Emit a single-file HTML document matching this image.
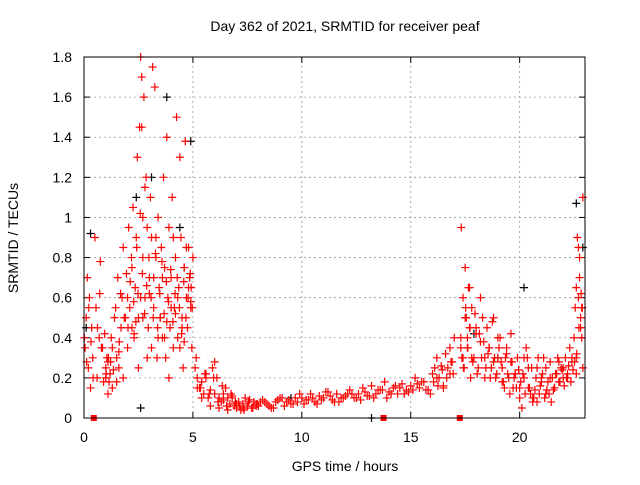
<!DOCTYPE html>
<html><head><meta charset="utf-8"><style>
body{margin:0;background:#fff}
svg{font-family:"Liberation Sans",sans-serif}
</style></head><body>
<svg id="chart" width="640" height="480">
<text x="345" y="31" text-anchor="middle" font-size="14">Day 362 of 2021, SRMTID for receiver peaf</text>
<text x="345" y="471" text-anchor="middle" font-size="14">GPS time / hours</text>
<text transform="translate(18,238) rotate(-90)" text-anchor="middle" font-size="14">SRMTID / TECUs</text>
<g id="grid"></g><g id="ticks"></g><g id="marks"></g>
<rect x="84" y="57" width="501" height="361" fill="none" stroke="#000" stroke-width="1"/>
</svg>
<script>
const xTicks=[0,5,10,15,20];
const yTicks=[0,0.2,0.4,0.6,0.8,1,1.2,1.4,1.6,1.8];
const yLabels=["0","0.2","0.4","0.6","0.8","1","1.2","1.4","1.6","1.8"];
const redT=[0.05,0.1,0.15,0.2,0.25,0.3,0.35,0.4,0.5,0.55,0.6,0.7,0.75,0.8,0.9,1.0,1.05,1.1,1.2,1.25,1.3,1.4,1.5,1.55,1.6,1.7,1.75,1.8,1.9,2.0,2.05,2.1,2.2,2.25,2.3,2.35,2.4,2.45,2.5,2.55,2.6,2.65,2.7,2.75,2.8,2.85,2.9,2.95,3.0,3.05,3.1,3.15,3.2,3.25,3.3,3.35,3.4,3.45,3.5,3.55,3.6,3.65,3.7,3.75,3.8,3.85,3.9,3.95,4.0,4.05,4.1,4.15,4.2,4.25,4.3,4.35,4.4,4.45,4.5,4.55,4.6,4.65,4.7,4.75,4.8,4.85,4.9,4.95,5.0,2.6,2.65,2.7,2.9,3.3,3.5,3.9,4.3,4.5,2.5,2.8,3.1,3.6,4.0,4.4,4.7,1.8,2.2,2.0,3.2,3.7,4.1,4.6,4.8,
0.02,0.12,0.22,0.32,0.42,0.62,0.72,0.85,0.95,1.02,1.12,1.15,1.22,1.35,1.45,1.62,1.68,1.85,1.95,2.02,2.12,2.18,2.28,2.38,2.42,2.48,2.58,2.68,2.78,2.88,2.98,3.08,3.18,3.28,3.38,3.48,3.58,3.68,3.78,3.88,3.98,4.08,4.18,4.28,4.38,4.48,4.58,4.68,4.78,4.88,4.92,4.97,1.0,1.1,1.3,1.5,1.6,2.3,2.7,3.0,3.4,3.8,4.2,4.6,4.9,
5.1,5.2,5.3,5.4,5.5,5.6,5.7,5.8,5.9,6.0,6.1,6.2,6.3,6.4,6.5,6.6,6.7,6.8,6.9,7.0,7.1,7.2,7.3,7.4,7.5,7.6,7.7,7.8,7.9,8.0,8.2,8.4,8.6,8.8,9.0,9.2,9.4,9.6,9.8,10.0,10.2,10.4,10.6,10.8,11.0,11.2,11.4,11.6,11.8,12.0,12.2,12.4,12.6,12.8,13.0,13.2,13.4,13.6,13.8,14.0,14.2,14.4,14.6,14.8,15.0,15.2,15.4,15.6,15.8,16.0,16.1,16.2,16.3,16.4,16.5,16.6,16.7,16.8,16.9,17.0,
5.2,5.4,5.6,5.8,6.0,6.2,6.4,6.6,6.8,7.0,7.3,7.6,7.9,8.3,8.7,9.1,9.5,9.9,10.3,10.7,11.1,11.5,11.9,12.3,12.7,13.1,13.5,13.9,14.3,14.7,15.1,15.5,15.9,16.2,16.5,16.8,
5.15,5.35,5.55,5.75,5.95,6.15,6.35,6.55,6.75,6.95,7.15,7.35,7.55,7.75,7.95,8.1,8.5,8.9,9.3,9.7,10.1,10.5,10.9,11.3,11.7,12.1,12.5,12.9,13.3,13.7,14.1,14.5,14.9,15.3,15.7,16.05,16.25,16.45,16.65,16.85,16.95,
17.3,17.35,17.4,17.45,17.5,17.55,17.6,17.65,17.7,17.75,17.8,17.9,18.0,18.1,18.2,18.3,18.4,18.5,18.6,18.7,18.8,18.9,19.0,19.1,19.2,19.3,19.4,19.5,19.6,19.7,19.8,19.9,20.0,20.1,20.2,20.3,20.4,20.5,20.6,20.7,20.8,20.9,21.0,21.1,21.2,21.3,21.4,21.5,21.6,21.7,21.8,21.9,22.0,22.1,22.2,22.3,22.4,22.5,22.55,22.6,22.65,22.7,22.75,22.8,22.85,22.9,
17.3,17.4,17.5,17.6,17.7,17.8,18.0,18.2,18.4,18.6,18.8,19.0,19.2,19.4,19.6,19.8,20.0,20.2,20.4,20.6,20.8,21.0,21.2,21.4,21.6,21.8,22.0,22.2,22.4,22.6,22.7,22.8,22.9,22.6,22.75,22.85,
17.32,17.42,17.52,17.62,17.72,17.85,17.95,18.05,18.15,18.25,18.35,18.45,18.55,18.65,18.75,18.85,18.95,19.05,19.15,19.25,19.35,19.45,19.55,19.65,19.75,19.85,19.95,20.05,20.15,20.25,20.35,20.45,20.55,20.65,20.75,20.85,20.95,21.05,21.15,21.25,21.35,21.45,21.55,21.65,21.75,21.85,21.95,22.05,22.15,22.25,22.35,22.45,22.52,22.62,22.72,22.82,22.88];
const redV=[0.35,0.5,0.7,0.25,0.6,0.15,0.45,0.3,0.9,0.55,0.2,0.4,0.78,0.35,0.18,0.25,0.3,0.12,0.22,0.4,0.15,0.5,0.3,0.7,0.25,0.45,0.6,0.85,0.5,0.35,0.95,0.55,0.75,1.05,0.4,0.65,0.9,1.3,0.5,1.45,1.8,1.7,0.8,1.6,0.6,1.2,0.95,0.45,0.7,1.1,0.35,1.75,0.55,1.65,0.9,0.3,1.0,0.65,0.5,0.85,0.4,1.2,0.75,0.3,1.4,0.6,0.95,0.45,0.7,1.1,0.35,0.55,0.8,1.5,0.4,0.65,1.3,0.9,0.5,0.25,0.75,1.38,0.6,0.45,0.85,0.7,0.55,0.35,0.8,0.6,1.45,1.0,0.3,0.8,0.5,0.2,0.6,0.45,0.25,1.15,0.9,0.7,0.55,0.35,0.85,0.2,0.45,0.6,0.7,0.4,0.9,0.75,0.65,
0.4,0.28,0.55,0.38,0.2,0.45,0.62,0.35,0.42,0.22,0.3,0.18,0.28,0.24,0.55,0.38,0.62,0.5,0.72,0.45,0.68,0.8,0.58,0.48,0.85,0.62,1.02,0.72,0.52,0.66,0.8,0.6,0.5,0.82,0.45,0.62,0.78,0.52,0.68,0.58,0.74,0.48,0.62,0.7,0.55,0.42,0.68,0.5,0.6,0.72,0.65,0.55,0.2,0.28,0.35,0.18,0.33,0.42,0.5,0.62,0.4,0.48,0.52,0.38,0.58,
0.25,0.2,0.15,0.18,0.12,0.22,0.1,0.14,0.25,0.28,0.2,0.1,0.08,0.12,0.15,0.1,0.07,0.11,0.06,0.05,0.08,0.04,0.07,0.1,0.06,0.09,0.05,0.08,0.07,0.06,0.09,0.07,0.05,0.08,0.1,0.06,0.09,0.07,0.08,0.1,0.09,0.12,0.08,0.11,0.1,0.13,0.09,0.12,0.1,0.11,0.14,0.1,0.12,0.15,0.11,0.16,0.12,0.14,0.18,0.13,0.15,0.12,0.17,0.14,0.16,0.2,0.15,0.18,0.14,0.22,0.25,0.3,0.2,0.26,0.15,0.32,0.25,0.35,0.28,0.4,
0.15,0.1,0.2,0.06,0.12,0.05,0.09,0.04,0.1,0.07,0.05,0.09,0.06,0.08,0.05,0.1,0.07,0.12,0.09,0.07,0.13,0.08,0.1,0.12,0.09,0.11,0.14,0.1,0.16,0.12,0.14,0.18,0.12,0.2,0.16,0.22,
0.3,0.15,0.22,0.12,0.2,0.08,0.16,0.06,0.12,0.08,0.06,0.04,0.08,0.05,0.07,0.08,0.06,0.09,0.08,0.1,0.07,0.1,0.09,0.11,0.08,0.12,0.1,0.13,0.1,0.14,0.12,0.15,0.13,0.17,0.14,0.18,0.16,0.24,0.2,0.28,0.22,
0.4,0.3,0.6,0.25,0.75,0.5,0.35,0.65,0.45,0.2,0.55,0.3,0.42,0.25,0.38,0.5,0.3,0.45,0.35,0.25,0.5,0.2,0.3,0.4,0.25,0.15,0.35,0.2,0.28,0.15,0.22,0.3,0.1,0.05,0.2,0.35,0.15,0.12,0.1,0.14,0.08,0.12,0.2,0.3,0.25,0.18,0.28,0.2,0.15,0.22,0.18,0.25,0.2,0.3,0.22,0.35,0.28,0.4,0.55,0.3,0.9,0.6,0.7,0.45,0.55,1.1,0.35,
0.3,0.5,0.4,0.65,0.3,0.45,0.6,0.2,0.35,0.28,0.4,0.18,0.32,0.42,0.22,0.15,0.3,0.25,0.08,0.25,0.18,0.12,0.2,0.15,0.28,0.25,0.2,0.3,0.22,0.85,0.5,0.25,0.65,0.8,0.4,0.95,
0.25,0.55,0.35,0.45,0.28,0.52,0.22,0.42,0.3,0.38,0.25,0.32,0.2,0.48,0.3,0.22,0.35,0.28,0.18,0.3,0.22,0.12,0.28,0.2,0.15,0.24,0.18,0.22,0.12,0.3,0.15,0.25,0.1,0.2,0.3,0.16,0.22,0.1,0.14,0.12,0.08,0.14,0.22,0.3,0.18,0.24,0.16,0.2,0.26,0.18,0.24,0.28,0.32,0.45,0.62,0.55,0.7];
const blackT=[0.1,0.3,2.4,2.6,3.1,3.8,4.4,4.9,9.5,13.2,17.9,19.0,20.2,22.6,22.9];
const blackV=[0.45,0.92,1.1,0.05,1.2,1.6,0.95,1.38,0.1,0.0,0.42,0.3,0.65,1.07,0.85];
const flagT=[0.45,13.75,17.25];
const X0=84,X1=585,Y0=418,Y1=57,XMAX=23,YMAX=1.8;
const sx=t=>X0+(X1-X0)*t/XMAX, sy=v=>Y0-(Y0-Y1)*v/YMAX;
const NS="http://www.w3.org/2000/svg";
const mk=(tag,attrs,parent)=>{const e=document.createElementNS(NS,tag);for(const k in attrs)e.setAttribute(k,attrs[k]);parent.appendChild(e);return e;};
const grid=document.getElementById('grid'),ticks=document.getElementById('ticks'),marks=document.getElementById('marks');
xTicks.forEach(t=>{const x=sx(t);
 if(t>0){const g=mk('line',{x1:x,x2:x,y1:Y0,y2:Y1,stroke:'#999','stroke-dasharray':'2,3','stroke-width':0.8},grid);
 
 }
 mk('line',{x1:x,x2:x,y1:Y0,y2:Y0-6,stroke:'#000'},ticks);mk('line',{x1:x,x2:x,y1:Y1,y2:Y1+6,stroke:'#000'},ticks);
 const l=mk('text',{x:x,y:442,'text-anchor':'middle','font-size':14},ticks);l.textContent=t;
 
 });
yTicks.forEach((v,i)=>{const y=sy(v);
 if(v>0&&v<1.8){const g=mk('line',{x1:X0,x2:X1,y1:y,y2:y,stroke:'#999','stroke-dasharray':'2,3','stroke-width':0.8},grid);
 
 }
 mk('line',{x1:X0,x2:X0+6,y1:y,y2:y,stroke:'#000'},ticks);mk('line',{x1:X1,x2:X1-6,y1:y,y2:y,stroke:'#000'},ticks);
 const l=mk('text',{x:72,y:y+5,'text-anchor':'end','font-size':14},ticks);l.textContent=yLabels[i];
 
 });
function plus(t,v,c,name){const x=sx(t),y=sy(v);
 const p=mk('path',{d:`M${x-4},${y}h8M${x},${y-4}v8`,stroke:c,'stroke-width':1.2},marks);
 
 }
blackT.forEach((t,i)=>plus(t,blackV[i],'#000','black-point'));
redT.forEach((t,i)=>plus(t,redV[i],'#f00','red-point'));
flagT.forEach(t=>{const r=mk('rect',{x:sx(t)-3,y:Y0-3,width:6,height:6,fill:'#f00'},marks);
 
 });
</script>
</body></html>
